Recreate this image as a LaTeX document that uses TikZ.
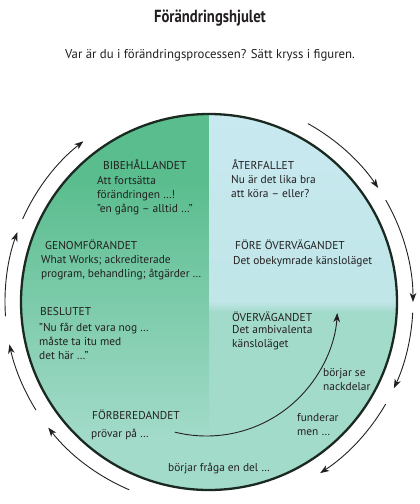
\documentclass[tikz,border=0pt]{standalone}
\usepackage{fontspec}
\setmainfont{PT Sans}
\newfontfamily\titlefont{PT Sans}[FakeStretch=0.84]
\usetikzlibrary{arrows.meta,positioning,calc}
\definecolor{wheelGreen}{HTML}{5ABD8E}
\definecolor{wheelTeal}{HTML}{A3DBCA}
\definecolor{wheelBlue}{HTML}{C9E9F1}
\definecolor{wheelEdge}{HTML}{1B2A21}
\definecolor{inkText}{HTML}{231F20}

\begin{document}
\begin{tikzpicture}[x=1pt,y=-1pt,
    every node/.style={inner sep=0pt,text=inkText},
    phase/.style={font=\fontsize{11.4}{13}\selectfont,anchor=west},
    remark/.style={font=\fontsize{11.4}{14}\selectfont,align=left,anchor=north west},
    cyclearrow/.style={line width=0.9pt,draw=inkText,-{Stealth[length=9pt,width=6.5pt,inset=2.5pt]}}]
    \useasboundingbox (0,0) rectangle (420,504);
    \coordinate (c) at (209,302);
    \coordinate (ci) at (206.5,305);
    % Heading
    \node[font=\titlefont\bfseries\fontsize{17.5}{20}\selectfont] (title) at (210,18) {Förändringshjulet};
    \node[font=\fontsize{12.8}{15}\selectfont] (question) at (210,55) {Var är du i förändringsprocessen? Sätt kryss i figuren.};
    % Wheel
    \begin{scope}
      \clip (c) circle[radius=188];
      \fill[wheelTeal] (c) circle[radius=188];
      \fill[wheelGreen] (15,100) rectangle (209,180);
      \shade[top color=wheelGreen,bottom color=wheelTeal] (15,180) rectangle (209,440);
      \shade[top color=wheelBlue,bottom color=wheelBlue!75!wheelTeal] (209,100) rectangle (400,302);
      \shade[top color=wheelBlue!75!wheelTeal,bottom color=wheelTeal] (209,302) rectangle (400,312);
    \end{scope}
    \draw[wheelEdge,line width=2.3pt] (c) circle[radius=188];
    % Arrows round the wheel
    \foreach \a/\b in {113/142,148/168,176/200,204/232,299/326,330/360,363/385,390/417}
      \draw[cyclearrow] ($(c)+(\a:204)$) arc[start angle=\a,end angle=\b,radius=204];
    % Inner arrow
    \draw[cyclearrow] ($(ci)+(104:131)$) arc[start angle=104,end angle=3.5,radius=131];
    % Phases, left half
    \node[phase] (bibeh) at (103,165) {BIBEHÅLLANDET};
    \node[remark] (bibehText) at (97,176) {Att fortsätta\\förändringen …!\\”en gång – alltid …”};
    \node[phase] (genom) at (45,245) {GENOMFÖRANDET};
    \node[remark] (genomText) at (41,255) {What Works; ackrediterade\\program, behandling; åtgärder …};
    \node[phase] (beslut) at (40,312) {BESLUTET};
    \node[remark] (beslutText) at (39,323) {”Nu får det vara nog …\\måste ta itu med\\det här …”};
    \node[phase] (forbered) at (92,415) {FÖRBEREDANDET};
    \node[remark,anchor=west] (forberedText) at (91,434) {prövar på …};
    % Phases, right half
    \node[phase] (aterf) at (232,165) {ÅTERFALLET};
    \node[remark] (aterfText) at (231,175) {Nu är det lika bra\\att köra – eller?};
    \node[phase] (foreov) at (235,245) {FÖRE ÖVERVÄGANDET};
    \node[remark,anchor=west] (foreovText) at (233,262) {Det obekymrade känsloläget};
    \node[phase] (overv) at (232,317) {ÖVERVÄGANDET};
    \node[remark] (overvText) at (232,325) {Det ambivalenta\\känsloläget};
    % Small remarks along the arrows
    \node[remark] (nackdel) at (323,368) {börjar se\\nackdelar};
    \node[remark] (funder) at (297,413) {funderar\\men …};
    \node[remark,anchor=west] (fraga) at (168,469) {börjar fråga en del …};
\end{tikzpicture}
\end{document}
